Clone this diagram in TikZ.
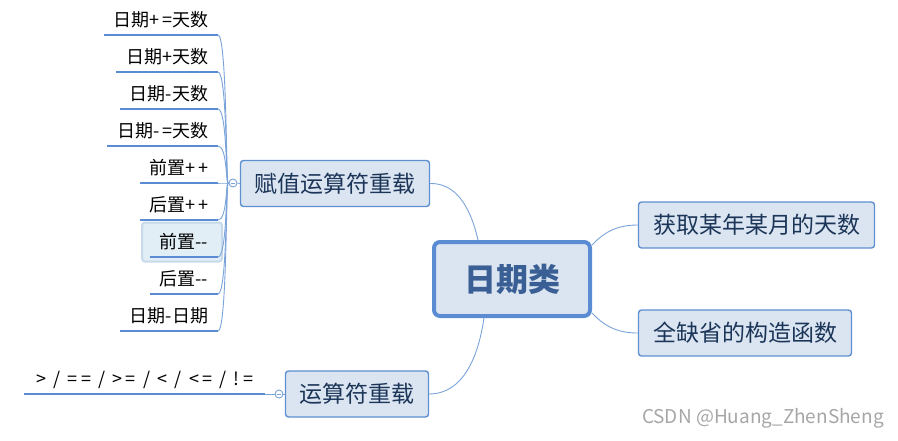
\documentclass[tikz,border=0pt]{standalone}
\usepackage{fontspec}
\setmainfont{Noto Sans CJK SC}
\newfontfamily\wmfont{Noto Sans CJK SC}
\newfontfamily\symf[LetterSpace=14]{Noto Sans CJK SC}
\newfontfamily\symw[LetterSpace=18]{Noto Sans CJK SC}
\newcommand\sy[1]{{\symf #1}}
\definecolor{lineblue}{HTML}{5B8BD3}
\definecolor{connblue}{HTML}{7AA3DA}
\definecolor{boxfill}{HTML}{DBE5F1}
\definecolor{boxedge}{HTML}{5E8FD0}
\definecolor{navy}{HTML}{1B3558}
\definecolor{ctext}{HTML}{3A5F94}
\definecolor{selfill}{HTML}{E2EEF5}
\definecolor{seledge}{HTML}{C6DAE9}
\definecolor{wmgray}{HTML}{A6A6A6}
\tikzset{
  leaf/.style={font=\fontsize{18}{21}\selectfont, inner xsep=10pt, inner ysep=4pt,
    text height=13pt, text depth=5pt, anchor=south east, outer sep=0pt},
  uline/.style={draw=lineblue, line width=2.8pt},
  conn/.style={draw=connblue, line width=0.9pt},
  subbox/.style={draw=boxedge, fill=boxfill, line width=1.4pt, rounded corners=3pt,
    font=\fontsize{23}{26}\selectfont, text=navy, minimum height=46pt, inner sep=0pt},
  centerbox/.style={draw=lineblue, fill=boxfill, line width=4pt, rounded corners=6pt,
    font=\fontsize{32}{35}\selectfont\bfseries, text=ctext, minimum width=156pt, minimum height=74pt},
  knob/.style={circle, draw=connblue, fill=white, line width=0.9pt, minimum size=8pt, inner sep=0pt},
  selbox/.style={draw=seledge, fill=selfill, line width=2pt, rounded corners=3pt}
}
\begin{document}
\begin{tikzpicture}[x=1pt,y=-1pt]
\useasboundingbox (0,0) rectangle (898,440);

% central
\node[centerbox] (c) at (512,279) {日期类};

% right topics
\node[subbox, minimum width=236pt] (r1) at (756.5,225) {获取某年某月的天数};
\node[subbox, minimum width=213pt] (r2) at (745,333) {全缺省的构造函数};

% left topics
\node[subbox, minimum width=189pt] (s1) at (335,183.5) {赋值运算符重载};
\node[subbox, minimum width=143pt] (s2) at (357,394) {运算符重载};

% central connectors
\draw[conn] ([xshift=-34pt]c.north) .. controls (470,205) and (455,183) .. (s1.east);
\draw[conn] ([xshift=-28pt]c.south) .. controls (476,372) and (455,394) .. (s2.east);
\draw[conn] ([yshift=-5pt]c.north east) .. controls (606,230) and (620,225) .. (r1.west);
\draw[conn] ([yshift=5pt]c.south east) .. controls (606,328) and (620,333) .. (r2.west);

% selected leaf highlight
\node[selbox, minimum width=80pt, minimum height=39pt, inner sep=0pt] (sel) at (182,242) {};

% leaves of s1
\coordinate (hub1) at (228,183);
\node[leaf] (l1) at (218,35) {日期\sy{+=}天数};
\node[leaf] (l2) at (218,72) {日期\sy{+}天数};
\node[leaf] (l3) at (218,109) {日期-天数};
\node[leaf] (l4) at (218,146) {日期\sy{-=}天数};
\node[leaf] (l5) at (218,183) {前置\sy{++}};
\node[leaf] (l6) at (218,220) {后置\sy{++}};
\node[leaf] (l7) at (218,257) {前置-{}-};
\node[leaf] (l8) at (218,294) {后置-{}-};
\node[leaf] (l9) at (218,331) {日期-日期};
\foreach \n in {l1,l2,l3,l4,l5,l6,l7,l8,l9}{
  \draw[uline] (\n.south west) -- (\n.south east);
  \draw[conn] (hub1) .. controls (226,183) and (227,0|-\n.south east) .. (\n.south east);
}
\node[knob] (k1) at (233,183) {};
\draw[connblue, line width=0.8pt] ([xshift=-2.2pt]k1.center) -- ([xshift=2.2pt]k1.center);
\draw[conn] (hub1) -- (k1.west);
\draw[conn] (k1.east) -- (s1.west);

% leaf of s2
\node[leaf, inner xsep=12pt] (m1) at (265,394) {\symw > / == / >= / < / <= / !=};
\draw[uline] (m1.south west) -- (m1.south east);
\node[knob] (k2) at (279,394) {};
\draw[connblue, line width=0.8pt] ([xshift=-2.2pt]k2.center) -- ([xshift=2.2pt]k2.center);
\draw[conn] (m1.south east) -- (k2.west);
\draw[conn] (k2.east) -- (s2.west);

% watermark
\node[font=\wmfont\fontsize{19}{22}\selectfont, text=wmgray, anchor=east, inner sep=0pt] (wm) at (884,418) {CSDN @Huang\_ZhenSheng};
\end{tikzpicture}
\end{document}
